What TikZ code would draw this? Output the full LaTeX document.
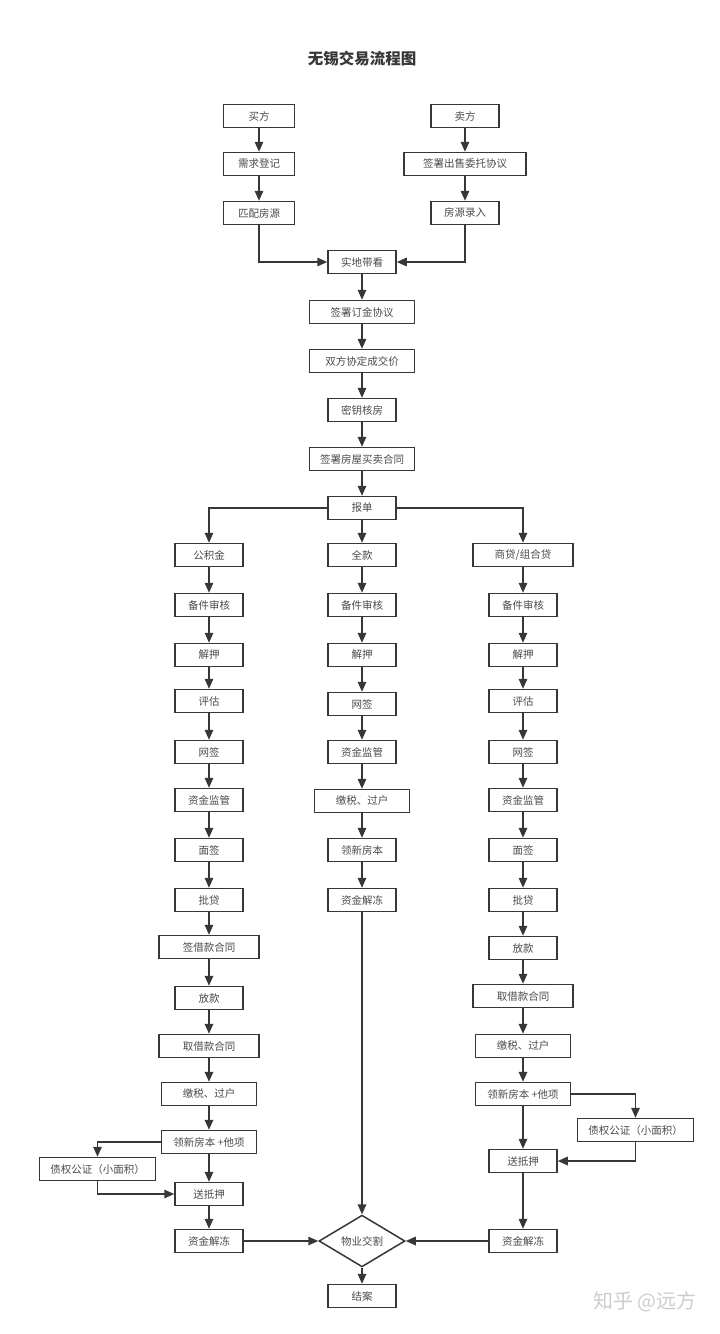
\documentclass[tikz,border=0pt]{standalone}
\usepackage{fontspec}
\setmainfont{Noto Sans CJK SC}
\usetikzlibrary{arrows.meta,shapes.geometric}
\definecolor{ink}{RGB}{55,55,55}
\definecolor{txt}{RGB}{75,75,75}
\definecolor{mark}{RGB}{205,205,205}
\tikzset{
  >={Triangle[length=10pt,width=8.5pt]},
  box/.style={draw=ink,line width=1.5pt,fill=white,minimum height=23pt,minimum width=#1,
    inner sep=0pt,font=\fontsize{10.5}{12}\selectfont,text=txt},
  box/.default=68pt,
  handover/.style={diamond,draw=ink,line width=1.5pt,fill=white,minimum width=86pt,
    minimum height=37pt,inner sep=0pt,font=\fontsize{10.5}{12}\selectfont,text=txt},
  flow/.style={->,line width=1.5pt,draw=ink},
  heading/.style={font=\fontsize{15.5}{18}\selectfont\bfseries,text=ink},
  tag/.style={font=\fontsize{20}{22}\selectfont,text=mark},
}
\begin{document}
\begin{tikzpicture}[x=1pt,y=-1pt]
  \fill[white] (0,0) rectangle (720,1334);
  \node[heading] (ttl) at (362,59) {无锡交易流程图};
  % buyer and seller
  \node[box=71pt] (buy) at (259,116) {买方};
  \node[box=71pt] (need) at (259,164) {需求登记};
  \node[box=71pt] (match) at (259,213) {匹配房源};
  \node[box] (sell) at (465,116) {卖方};
  \node[box=122pt] (entrust) at (465,164) {签署出售委托协议};
  \node[box] (entry) at (465,213) {房源录入};
  \node[box] (visit) at (362,262) {实地带看};
  \node[box=105pt] (deposit) at (362,312) {签署订金协议};
  \node[box=105pt] (price) at (362,361) {双方协定成交价};
  \node[box] (key) at (362,410) {密钥核房};
  \node[box=105pt] (contract) at (362,459) {签署房屋买卖合同};
  \node[box] (report) at (362,508) {报单};
  % housing fund
  \node[box] (gjj) at (209,555) {公积金};
  \node[box] (la) at (209,605) {备件审核};
  \node[box] (lb) at (209,655) {解押};
  \node[box] (lc) at (209,701) {评估};
  \node[box] (ld) at (209,752) {网签};
  \node[box] (le) at (209,800) {资金监管};
  \node[box] (lf) at (209,850) {面签};
  \node[box] (lg) at (209,900) {批贷};
  \node[box=100pt] (lh) at (209,947) {签借款合同};
  \node[box] (li) at (209,998) {放款};
  \node[box=100pt] (lj) at (209,1046) {取借款合同};
  \node[box=95pt] (lk) at (209,1094) {缴税、过户};
  \node[box=95pt] (ll) at (209,1142) {领新房本 +他项};
  \node[box=116pt] (lnote) at (97.5,1169) {债权公证（小面积）};
  \node[box] (lm) at (209,1194) {送抵押};
  \node[box] (ln) at (209,1241) {资金解冻};
  % full payment
  \node[box] (full) at (362,555) {全款};
  \node[box] (ma) at (362,605) {备件审核};
  \node[box] (mb) at (362,655) {解押};
  \node[box] (mc) at (362,704) {网签};
  \node[box] (md) at (362,752) {资金监管};
  \node[box=95pt] (me) at (362,801) {缴税、过户};
  \node[box] (mf) at (362,850) {领新房本};
  \node[box] (mg) at (362,900) {资金解冻};
  \node[handover] (hand) at (362,1241) {物业交割};
  \node[box] (close) at (362,1296) {结案};
  % commercial loan
  \node[box=100pt] (loan) at (523,555) {商贷/组合贷};
  \node[box] (ra) at (523,605) {备件审核};
  \node[box] (rb) at (523,655) {解押};
  \node[box] (rc) at (523,701) {评估};
  \node[box] (rd) at (523,752) {网签};
  \node[box] (re) at (523,800) {资金监管};
  \node[box] (rf) at (523,850) {面签};
  \node[box] (rg) at (523,900) {批贷};
  \node[box] (rh) at (523,948) {放款};
  \node[box=100pt] (ri) at (523,996) {取借款合同};
  \node[box=95pt] (rj) at (523,1046) {缴税、过户};
  \node[box=95pt] (rk) at (523,1094) {领新房本 +他项};
  \node[box=116pt] (rnote) at (635.5,1130) {债权公证（小面积）};
  \node[box] (rm) at (523,1161) {送抵押};
  \node[box] (rn) at (523,1241) {资金解冻};
  \node[tag] (wm) at (645,1302) {知乎 @远方};
  % connectors
  \foreach \a/\b in {buy/need,need/match,sell/entrust,entrust/entry,visit/deposit,
    deposit/price,price/key,key/contract,contract/report,report/full}
    \draw[flow] (\a) -- (\b);
  \draw[flow] (match.south) |- (visit.west);
  \draw[flow] (entry.south) |- (visit.east);
  \draw[flow] (report.west) -| (gjj.north);
  \draw[flow] (report.east) -| (loan.north);
  \foreach \a/\b in {gjj/la,la/lb,lb/lc,lc/ld,ld/le,le/lf,lf/lg,lg/lh,lh/li,li/lj,
    lj/lk,lk/ll,ll/lm,lm/ln}
    \draw[flow] (\a) -- (\b);
  \draw[flow] (ll.west) -| (lnote.north);
  \draw[flow] (lnote.south) |- (lm.west);
  \foreach \a/\b in {full/ma,ma/mb,mb/mc,mc/md,md/me,me/mf,mf/mg,mg/hand,hand/close}
    \draw[flow] (\a) -- (\b);
  \foreach \a/\b in {loan/ra,ra/rb,rb/rc,rc/rd,rd/re,re/rf,rf/rg,rg/rh,rh/ri,ri/rj,
    rj/rk,rk/rm,rm/rn}
    \draw[flow] (\a) -- (\b);
  \draw[flow] (rk.east) -| (rnote.north);
  \draw[flow] (rnote.south) |- (rm.east);
  \draw[flow] (ln) -- (hand);
  \draw[flow] (rn) -- (hand);
\end{tikzpicture}
\end{document}
